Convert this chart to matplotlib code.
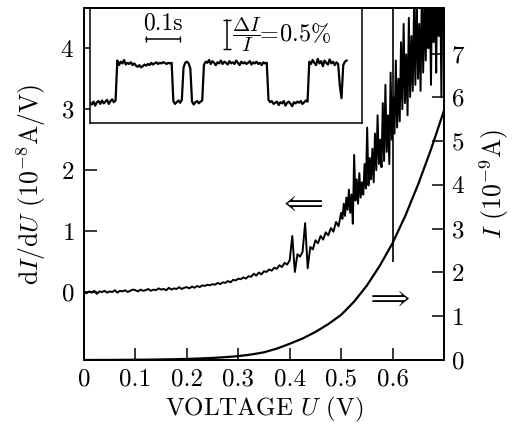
import numpy as np
import matplotlib
matplotlib.use("Agg")
import matplotlib.pyplot as plt

plt.rcParams['font.family'] = ['cmr10', 'DejaVu Serif']
plt.rcParams['mathtext.fontset'] = 'cm'
plt.rcParams['axes.formatter.use_mathtext'] = True

# dI/dU (10^-8 A/V), sampled every 5 mV up to 0.5 V, then every 2.5 mV
didu_a = [0.00, -0.02, 0.01, -0.01, 0.02, -0.03, 0.01, 0.00, 0.02, -0.01, 0.01,
          0.00, 0.03, -0.01, 0.02, 0.01, 0.03, 0.00, 0.02, 0.04, 0.03,
          0.01, 0.04, 0.02, 0.03, 0.05, 0.02, 0.04, 0.03, 0.06, 0.04,
          0.05, 0.03, 0.07, 0.04, 0.06, 0.05, 0.08, 0.05, 0.07, 0.08,
          0.06, 0.09, 0.07, 0.10, 0.08, 0.11, 0.10, 0.12, 0.11, 0.13,
          0.12, 0.15, 0.13, 0.16, 0.15, 0.18, 0.16, 0.20, 0.19, 0.22,
          0.21, 0.24, 0.22, 0.26, 0.25, 0.30, 0.27, 0.32, 0.29, 0.34,
          0.33, 0.37, 0.35, 0.40, 0.38, 0.44, 0.41, 0.48, 0.45, 0.52,
          0.92, 0.33, 0.62, 0.58, 0.66, 1.13, 0.39, 0.74, 0.70, 0.85,
          0.80, 0.92, 0.86, 0.98, 0.93, 1.05, 0.99, 1.15, 1.08, 1.30]
didu_b = [1.20, 1.45, 1.25, 1.55, 1.35, 1.68, 1.30, 1.60,
          1.12, 2.25, 1.50, 1.85, 1.45, 1.95, 1.55, 1.80,
          1.60, 2.10, 1.70, 2.70, 1.75, 2.20, 1.85, 2.35,
          1.80, 2.60, 2.00, 2.90, 2.10, 2.50, 2.05, 3.10,
          2.15, 3.40, 2.30, 2.90, 2.10, 3.60, 2.50, 3.20,
          2.60, 3.80, 2.70, 3.50, 2.80, 4.10, 3.00, 4.40,
          3.10, 3.90, 2.90, 4.50, 3.20, 4.20, 3.30, 4.70,
          3.40, 4.90, 3.50, 4.40, 3.30, 5.00, 3.60, 4.80,
          3.80, 5.20, 4.00, 5.00, 3.40, 5.30, 4.10, 5.10,
          3.60, 5.40, 4.20, 5.20, 3.20, 5.50, 4.60]
u_a = np.linspace(0, 0.5, len(didu_a))
u_b = np.linspace(0.5025, 0.7, len(didu_b))
u_didu = np.concatenate([u_a, u_b])
didu = np.array(didu_a + didu_b)

# I (10^-9 A)
u_i = [0.000, 0.025, 0.050, 0.075, 0.100, 0.125, 0.150, 0.175, 0.200, 0.225,
       0.250, 0.275, 0.300, 0.325, 0.350, 0.375, 0.400, 0.425, 0.450, 0.475,
       0.500, 0.525, 0.550, 0.575, 0.600, 0.625, 0.650, 0.675, 0.700]
cur = [0.000, 0.000, 0.001, 0.003, 0.005, 0.008, 0.012, 0.017, 0.024, 0.034,
       0.047, 0.064, 0.088, 0.125, 0.175, 0.26, 0.37, 0.49, 0.64, 0.82,
       1.03, 1.33, 1.70, 2.15, 2.67, 3.30, 4.02, 4.82, 5.70]

# inset: relative current (%) vs time, 5 ms steps
tel = [0.00, -0.03, 0.02, -0.05, 0.01, 0.03, -0.02, 0.04, -0.01, 0.02, 0.05, -0.02, 0.03, 0.06, 0.01, 0.04,
       0.74, 0.66, 0.72, 0.69, 0.75, 0.67, 0.70, 0.68, 0.71, 0.66, 0.69, 0.65, 0.63, 0.66, 0.62, 0.64, 0.67,
       0.65, 0.68, 0.66, 0.70, 0.67, 0.69, 0.71, 0.68, 0.70, 0.69, 0.71, 0.70, 0.68, 0.70, 0.69, 0.70,
       0.03, -0.02, 0.01, 0.04, 0.00, 0.05,
       0.62, 0.70, 0.72, 0.69, 0.60,
       0.02, -0.03, 0.01, 0.03, -0.01, 0.02, 0.04,
       0.66, 0.72, 0.70, 0.75, 0.68, 0.73, 0.70, 0.66, 0.71, 0.69, 0.74, 0.68, 0.72, 0.70, 0.67, 0.73,
       0.69, 0.71, 0.68, 0.74, 0.70, 0.66, 0.72, 0.69, 0.71, 0.68, 0.70, 0.73, 0.67, 0.71, 0.69, 0.72,
       0.68, 0.70, 0.66, 0.71, 0.69, 0.70,
       0.05, 0.01, 0.03, -0.02, 0.00, 0.02, -0.04, 0.01, -0.01, 0.03, -0.05, 0.00, 0.02, -0.02, -0.06, 0.01,
       -0.01, 0.02, 0.00, 0.03, -0.02, 0.01, 0.04, 0.02,
       0.72, 0.68, 0.75, 0.70, 0.66, 0.77, 0.69, 0.73, 0.64, 0.74, 0.70, 0.67, 0.76, 0.69, 0.72, 0.66, 0.71, 0.68,
       0.30, 0.08,
       0.66, 0.72, 0.74]
t_tel = np.arange(len(tel)) * 0.005

xticks = [0, 0.1, 0.2, 0.3, 0.4, 0.5, 0.6]
xlabels = ['0', '0.1', '0.2', '0.3', '0.4', '0.5', '0.6']
lticks = [0, 1, 2, 3, 4]
rticks = [0, 1, 2, 3, 4, 5, 6, 7]

fig = plt.figure(figsize=(5.13, 4.24), dpi=100)
ax = fig.add_axes([0.1637, 0.151, 0.7018, 0.830])
ax.plot(u_didu, didu, color='black', lw=1.4)
ax.vlines(0.6, 0.49, 5, color='black', lw=1.2)
ax.set_xlim(0, 0.7)
ax.set_ylim(-1.115, 4.66)
ax.set_xticks(xticks)
ax.set_xticklabels(xlabels)
ax.set_yticks(lticks)
ax.tick_params(direction='in', length=9, width=1.1, labelsize=18, top=False, right=False)
ax.tick_params(axis='y', pad=7)
ax.tick_params(axis='x', pad=6)
ax.set_xlabel(r'VOLTAGE $U$ (V)', fontsize=18, labelpad=3)
ax.set_ylabel(r'd$I$/d$U$ (10$^{-8}$A/V)', fontsize=18.5, labelpad=9)
for s in ax.spines.values():
    s.set_linewidth(1.4)

ax.text(0.423, 1.44, r'$\Longleftarrow$', fontsize=18, ha='center', va='center')
ax.text(0.592, -0.11, r'$\Longrightarrow$', fontsize=18, ha='center', va='center')

ax2 = ax.twinx()
ax2.plot(u_i, cur, color='black', lw=1.6)
ax2.set_ylim(0, 8.04)
ax2.set_yticks(rticks)
ax2.tick_params(direction='in', length=9, width=1.1, labelsize=18, pad=5)
ax2.set_ylabel(r'$I$ (10$^{-9}$A)', fontsize=18.5, labelpad=9)
for s in ax2.spines.values():
    s.set_linewidth(1.4)

ins = ax.inset_axes([0.017, 0.673, 0.755, 0.327])
ins.plot(t_tel, tel, color='black', lw=1.6)
ins.set_xlim(0, 0.8)
ins.set_ylim(-0.357, 1.66)
ins.set_xticks([])
ins.set_yticks([])
for s in ins.spines.values():
    s.set_linewidth(1.1)
ins.plot([0.165, 0.265], [1.125, 1.125], color='black', lw=1.1, marker='|', ms=5)
ins.text(0.215, 1.2, '0.1s', fontsize=17, ha='center', va='bottom')
ins.plot([0.403, 0.403], [0.947, 1.447], color='black', lw=1.1, marker='_', ms=6)
ins.text(0.418, 1.2, r'$\dfrac{\Delta I}{I}$', fontsize=15, ha='left', va='center')
ins.text(0.497, 1.2, r'$\!=\!$0.5%', fontsize=17.5, ha='left', va='center')

fig.savefig('out.png', dpi=100)
